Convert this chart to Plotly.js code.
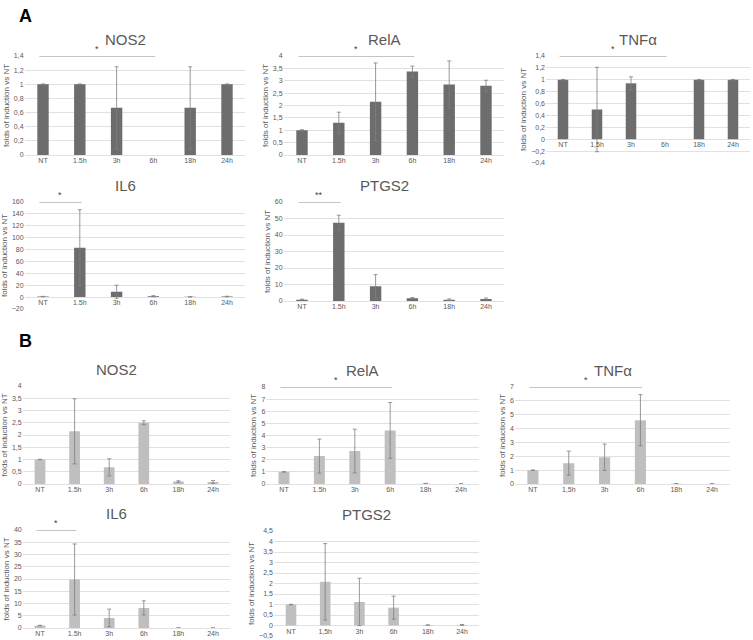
<!DOCTYPE html>
<html><head><meta charset="utf-8">
<script src="https://cdn.plot.ly/plotly-3.0.1.min.js"></script>
<style>html,body{margin:0;padding:0;background:#fff}#chart{width:753px;height:640px}</style>
</head><body><div id="chart"></div>
<script>
// ---------- DATA ----------
const categories = ['NT','1.5h','3h','6h','18h','24h'];
const tickLabelsDot = ['NT','1.5h','3h','6h','18h','24h'];
const tickLabelsComma = ['NT','1,5h','3h','6h','18h','24h'];

const panelTitles = ['NOS2','RelA','TNFα','IL6','PTGS2','NOS2','RelA','TNFα','IL6','PTGS2'];

// Panel A (dark bars); null = no bar visible
const A_NOS2      = [1.0, 1.0, 0.667, null, 0.667, 1.0];
const A_NOS2_err  = [0.005, 0.005, 0.58, null, 0.58, 0.005];
const A_RelA      = [1.0, 1.3, 2.15, 3.37, 2.85, 2.8];
const A_RelA_err  = [0.02, 0.43, 1.57, 0.22, 0.95, 0.22];
const A_TNFa      = [1.0, 0.5, 0.94, null, 1.0, 1.0];
const A_TNFa_err  = [0.005, 0.71, 0.11, null, 0.005, 0.005];
const A_IL6       = [1.0, 83, 9, 1.5, 0.5, 1.0];
const A_IL6_err   = [0.3, 64, 11, 1.0, 0.3, 0.5];
const A_PTGS2     = [0.8, 47.5, 9, 1.7, 0.8, 1.2];
const A_PTGS2_err = [0.3, 4.5, 7, 0.4, 0.5, 0.6];

// Panel B (light bars)
const B_NOS2      = [1.0, 2.15, 0.68, 2.5, 0.1, 0.08];
const B_NOS2_err  = [0.01, 1.33, 0.35, 0.08, 0.03, 0.06];
const B_RelA      = [1.0, 2.3, 2.72, 4.42, 0.03, 0.01];
const B_RelA_err  = [0.01, 1.4, 1.8, 2.3, 0.02, 0.01];
const B_TNFa      = [1.0, 1.5, 1.93, 4.6, 0.02, 0.01];
const B_TNFa_err  = [0.01, 0.87, 0.95, 1.85, 0.01, 0.01];
const B_IL6       = [1.0, 19.8, 4.1, 8.2, 0.05, 0.03];
const B_IL6_err   = [0.1, 14.5, 3.6, 2.9, 0.03, 0.02];
const B_PTGS2     = [1.0, 2.08, 1.12, 0.85, 0.02, 0.03];
const B_PTGS2_err = [0.01, 1.82, 1.13, 0.55, 0.01, 0.02];

// y ranges and tick steps
const yRanges = [[0,1.4],[0,4],[-0.4,1.4],[-20,160],[0,60],[0,4],[0,8],[0,7],[0,40],[-0.5,4.5]];
const yDticks = [0.2,0.5,0.2,20,10,0.5,1,1,5,0.5];

// significance bars: panel index, from category, to category, label
const sigPanels = [0, 1, 2, 3, 4, 6, 7, 8];
const sigFrom   = ['NT','NT','NT','NT','NT','NT','NT','NT'];
const sigTo     = ['6h','6h','6h','1.5h','1.5h','6h','6h','1.5h'];
const sigLabels = ['*','*','*','*','**','*','*','*'];

// ---------- LAYOUT (pixel boxes) ----------
const W = 753, H = 640;
// [x0, x1, yTop, yBottom] in pixels
const boxes = [
  [24.6, 245.4, 56, 155],
  [283.6, 504.4, 56, 155],
  [546, 750, 56, 163],
  [24.6, 245.4, 202, 309],
  [283.6, 504.4, 202, 301],
  [22.7, 230.3, 386, 484],
  [266.3, 478.7, 387, 484],
  [515, 730, 387, 484],
  [22.7, 230.3, 530, 628],
  [273.9, 479.1, 531, 636]
];
const series = [A_NOS2,A_RelA,A_TNFa,A_IL6,A_PTGS2,B_NOS2,B_RelA,B_TNFa,B_IL6,B_PTGS2];
const errs = [A_NOS2_err,A_RelA_err,A_TNFa_err,A_IL6_err,A_PTGS2_err,B_NOS2_err,B_RelA_err,B_TNFa_err,B_IL6_err,B_PTGS2_err];
const tickSets = [tickLabelsDot,tickLabelsDot,tickLabelsComma,tickLabelsDot,tickLabelsDot,tickLabelsDot,tickLabelsDot,tickLabelsComma,tickLabelsDot,tickLabelsComma];

const darkBar = '#6d6d6d', lightBar = '#bfbfbf';
const textGray = '#595959', gridGray = '#d9d9d9', errGray = '#7f7f7f';
const FONT = 'Liberation Sans, Arial, sans-serif';

const traces = [];
const layout = {
  width: W, height: H,
  margin: {l:0, r:0, t:0, b:0},
  paper_bgcolor: '#fff', plot_bgcolor: '#fff',
  showlegend: false,
  separators: ',.',
  font: {family: FONT, color: textGray, size: 7},
  annotations: [], shapes: []
};

const px = x => x / W;
const py = y => 1 - y / H;

series.forEach((vals, i) => {
  const n = i + 1;
  const xa = 'x' + (n === 1 ? '' : n), ya = 'y' + (n === 1 ? '' : n);
  traces.push({
    type: 'bar', x: categories, y: vals, xaxis: xa, yaxis: ya,
    width: 0.31,
    marker: {color: i < 5 ? darkBar : lightBar, line: {width: 0}},
    error_y: {type: 'data', array: errs[i], visible: true, color: errGray, thickness: 0.8, width: 2}
  });
  const [x0, x1, yt, yb] = boxes[i];
  const r = yRanges[i];
  const yDom = [py(yb), py(yt)];
  const zeroFrac = yDom[0] + (0 - r[0]) / (r[1] - r[0]) * (yDom[1] - yDom[0]);
  const xKey = 'xaxis' + (n === 1 ? '' : n), yKey = 'yaxis' + (n === 1 ? '' : n);
  layout[xKey] = {
    domain: [px(x0), px(x1)],
    type: 'category',
    anchor: r[0] < 0 ? 'free' : ya,
    tickvals: categories, ticktext: tickSets[i],
    showgrid: false, showline: false, ticks: '', zeroline: false,
    tickfont: {size: 7, color: textGray, family: FONT},
    range: [-0.5, 5.5], fixedrange: true
  };
  if (r[0] < 0) layout[xKey].position = zeroFrac;
  layout[yKey] = {
    domain: yDom, anchor: xa, range: r, dtick: yDticks[i], tick0: 0,
    showgrid: true, gridcolor: gridGray, gridwidth: 0.8,
    zeroline: true, zerolinecolor: gridGray, zerolinewidth: 0.8,
    showline: false, ticks: '',
    tickfont: {size: 7, color: textGray, family: FONT},
    title: {text: 'folds of induction vs NT', font: {size: 8, color: textGray, family: FONT}, standoff: 3},
    fixedrange: true
  };
  layout.annotations.push({
    xref: 'paper', yref: 'paper',
    x: (px(x0 - 20) + px(x1)) / 2, y: py(yt) + 6 / H,
    xanchor: 'center', yanchor: 'bottom',
    text: panelTitles[i], showarrow: false,
    font: {size: 15, color: textGray, family: FONT}
  });
});

sigPanels.forEach((p, k) => {
  const n = p + 1;
  const xa = 'x' + (n === 1 ? '' : n), ya = 'y' + (n === 1 ? '' : n);
  const top = yRanges[p][1];
  const a = categories.indexOf(sigFrom[k]) - 0.1;
  const b = categories.indexOf(sigTo[k]) + 0.05;
  layout.shapes.push({
    type: 'line', xref: xa, yref: ya, x0: a, x1: b, y0: top, y1: top,
    line: {color: '#8c8c8c', width: 1.2}
  });
  layout.annotations.push({
    xref: xa, yref: ya, x: (a + b) / 2, y: top, yanchor: 'bottom', yshift: 0,
    text: sigLabels[k], showarrow: false,
    font: {size: 9, color: '#404040', family: FONT}
  });
});

// panel letters
layout.annotations.push({xref:'paper', yref:'paper', x: px(17), y: py(4), xanchor:'left', yanchor:'top',
  text:'<b>A</b>', showarrow:false, font:{size:18, color:'#000', family:'Liberation Sans, Arial, sans-serif'}});
layout.annotations.push({xref:'paper', yref:'paper', x: px(17), y: py(329), xanchor:'left', yanchor:'top',
  text:'<b>B</b>', showarrow:false, font:{size:18, color:'#000', family:'Liberation Sans, Arial, sans-serif'}});

Plotly.newPlot('chart', traces, layout, {staticPlot: true, displayModeBar: false});
</script>
</body></html>
